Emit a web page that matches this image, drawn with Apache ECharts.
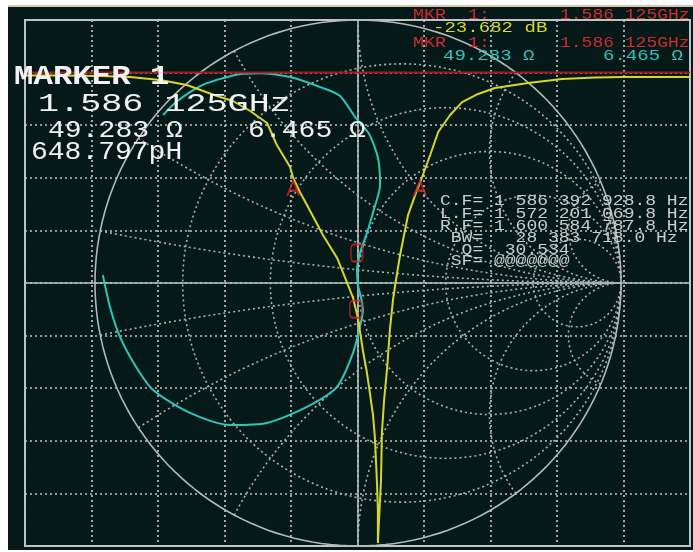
<!DOCTYPE html>
<html><head><meta charset="utf-8">
<script src="https://cdn.jsdelivr.net/npm/echarts@6/dist/echarts.min.js"></script>
<style>html,body{margin:0;padding:0;background:#fff;}#c{width:693px;height:552px;}</style>
</head><body><div id="c"></div>
<script>
// ---- Log-magnitude trace (yellow) ----
const logMagFreqMHz = [1511.5,1519.4,1528.4,1535.2,1542.0,1548.0,1554.8,1558.4,1562.3,1566.1,1568.3,1571.3,1572.0,1573.5,1575.1,1578.7,1581.9,1584.1,1585.5,1586.6,1587.7,1588.6,1589.3,1590.0,1590.4,1590.9,1591.1,1591.1,1591.3,1591.8,1592.0,1592.5,1593.2,1593.8,1594.5,1595.0,1596.1,1597.9,1599.5,1601.0,1602.9,1604.7,1607.4,1610.1,1613.7,1617.5,1625.0,1632.6,1640.1,1646.4,1661.5];
const logMagDb = [-0.28,-0.28,-0.32,-0.42,-0.70,-1.18,-2.22,-2.70,-3.65,-4.79,-6.88,-8.97,-10.02,-11.35,-12.59,-15.44,-17.62,-19.91,-21.42,-23.33,-26.37,-28.46,-30.46,-32.55,-34.55,-39.01,-41.58,-44.72,-44.72,-38.73,-34.26,-31.12,-27.99,-24.47,-21.62,-20.19,-17.34,-13.54,-11.64,-10.02,-7.83,-5.65,-4.03,-2.80,-2.03,-1.46,-0.99,-0.61,-0.47,-0.42,-0.42];
const refLevelDb = 0;
// ---- Smith chart trace (cyan), reflection coefficient ----
const smithRe = [-0.741,-0.696,-0.639,-0.582,-0.513,-0.449,-0.373,-0.259,-0.133,-0.068,-0.011,0.042,0.076,0.084,0.061,0.034,0.011,-0.004,0.000,0.011,0.019,0.008,-0.019,-0.080,-0.194,-0.346,-0.487,-0.639,-0.779,-0.848,-0.905,-0.943,-0.970];
const smithIm = [0.639,0.684,0.726,0.757,0.779,0.795,0.798,0.783,0.741,0.711,0.631,0.567,0.475,0.373,0.281,0.190,0.125,0.049,-0.008,-0.053,-0.103,-0.163,-0.266,-0.395,-0.471,-0.532,-0.540,-0.494,-0.407,-0.312,-0.205,-0.091,0.030];
// ---- Markers ----
const markerLogMag = [1586.125, -22.5];
const markerSmith = [-0.004, 0.114];
const bwMarkerFreq = [1572.0, 1600.6];
const bwMarkerDb = [-11.0, -11.0];
// ---- Smith graticule values ----
const resistanceCircles = [0.2, 0.5, 1, 2, 5];
const reactanceArcs = [0.1, 0.3, 0.6, 1, 2, 5];
// ---- Text ----
const bigLines = ['MARKER 1', '1.586 125GHz', '49.283 \u03a9', '6.465 \u03a9', '648.797pH'];
const infoLines = ['C.F= 1 586 392 928.8 Hz', 'L.F= 1 572 201 069.8 Hz', 'R.F= 1 600 584 787.8 Hz', ' BW=   28 383 718.0 Hz', '  Q=  30.534', ' SF= @@@@@@@'];

function resistancePath(r){
  const cx = r/(1+r), rad = 1/(1+r), pts = [];
  for (let i=0;i<=180;i++){ const a=i/180*2*Math.PI; pts.push([cx+rad*Math.cos(a), rad*Math.sin(a)]); }
  return pts;
}
function reactancePath(x){
  const ax=Math.abs(x), s=Math.sign(x), cy=1/ax, rad=1/ax;
  const p0=[(ax*ax-1)/(ax*ax+1), 2*ax/(ax*ax+1)];
  let a0=Math.atan2(p0[1]-cy, p0[0]-1); if(a0<0) a0+=2*Math.PI;
  const a1=1.5*Math.PI, pts=[];
  for (let i=0;i<=120;i++){ const a=a0+(a1-a0)*i/120; pts.push([1+rad*Math.cos(a), s*(cy+rad*Math.sin(a))]); }
  return pts;
}

const chart = echarts.init(document.getElementById('c'), null, {renderer:'canvas', width:693, height:552});
const gratStyle = {color:'#aab2b2', width:1.6, type:[2,3]};
const series = [];
resistanceCircles.forEach(r => series.push({type:'line', xAxisIndex:3, yAxisIndex:2, data:resistancePath(r), symbol:'none', silent:true, lineStyle:gratStyle, z:1, animation:false}));
reactanceArcs.forEach(x => [x,-x].forEach(v => series.push({type:'line', xAxisIndex:3, yAxisIndex:2, data:reactancePath(v), symbol:'none', silent:true, lineStyle:gratStyle, z:1, animation:false})));
series.push({type:'line', xAxisIndex:3, yAxisIndex:2, data:resistancePath(0), symbol:'none', silent:true, lineStyle:{color:'#b4b9b9', width:1.6}, z:1, animation:false});

series.push({type:'line', xAxisIndex:3, yAxisIndex:2, data:smithRe.map((v,i)=>[v, smithIm[i]]), symbol:'none', smooth:0.25, lineStyle:{color:'#2cc6be', width:2}, z:4, animation:false});
series.push({type:'line', xAxisIndex:0, yAxisIndex:0, data:logMagFreqMHz.map((f,i)=>[f, logMagDb[i]]), symbol:'none', lineStyle:{color:'#d6d62c', width:2}, z:5, animation:false});
series.push({type:'line', xAxisIndex:0, yAxisIndex:0, data:[[logMagFreqMHz[0], refLevelDb],[logMagFreqMHz[logMagFreqMHz.length-1], refLevelDb]], symbol:'none', silent:true, lineStyle:{color:'#a81818', width:2}, z:6, animation:false});
const boxStyle = {color:'rgba(0,0,0,0)', borderColor:'#d42424', borderWidth:1.6};
series.push({type:'scatter', xAxisIndex:0, yAxisIndex:0, data:[markerLogMag], symbol:'roundRect', symbolSize:[12,17], itemStyle:boxStyle, z:7, silent:true, animation:false});
series.push({type:'scatter', xAxisIndex:3, yAxisIndex:2, data:[markerSmith], symbol:'roundRect', symbolSize:[12,17], itemStyle:boxStyle, z:7, silent:true, animation:false});
series.push({type:'scatter', xAxisIndex:0, yAxisIndex:0, data:bwMarkerFreq.map((f,i)=>[f, bwMarkerDb[i]]), symbol:'path://M0 20 L10 0 L20 20 M3 13 L17 13', symbolSize:[12,15], itemStyle:{color:'rgba(0,0,0,0)', borderColor:'#d42424', borderWidth:2}, z:7, silent:true, animation:false});

const hidden = {axisLine:{show:false}, axisTick:{show:false}, axisLabel:{show:false}};
const dotted = {show:true, lineStyle:{color:'#bcc4c4', width:1.7, type:[2,3]}};
const solid = {show:true, lineStyle:{color:'#bcc0c0', width:1.6, type:'solid'}};

function txt(x,y,s,size,color,sx,weight){
  return {type:'text', x:x, y:y, scaleX:sx, z:100, style:{text:s, font:(weight||'normal')+' '+size+'px "Liberation Mono"', fill:color, align:'left', verticalAlign:'middle', textAlign:'left', textVerticalAlign:'middle'}};
}
const W='#f2f2f2', RED='#d42a2a', YEL='#d8d830', CY='#2cc8c0', INFO='#c9cece';
const graphics = [
  {type:'rect', shape:{x:0,y:0,width:693,height:5}, style:{fill:'#ffffff'}, z:100},
  {type:'rect', shape:{x:0,y:5,width:693,height:2}, style:{fill:'#d8c6a6'}, z:100},
  {type:'rect', shape:{x:0,y:0,width:8,height:552}, style:{fill:'#ffffff'}, z:100},
  {type:'rect', shape:{x:0,y:550,width:693,height:2}, style:{fill:'#ffffff'}, z:100},
  txt(14, 77, bigLines[0], 27, W, 1.2, 'bold'),
  txt(38, 104, bigLines[1], 26, W, 1.35),
  txt(48, 131, bigLines[2], 24, W, 1.17),
  txt(248, 131, bigLines[3], 24, W, 1.17),
  txt(31, 152, bigLines[4], 25, W, 1.12),
  txt(413, 15, 'MKR  1:', 15, RED, 1.22),
  txt(560, 15, '1.586 125GHz', 15, RED, 1.2),
  txt(433, 28, '-23.682 dB', 15, YEL, 1.27),
  txt(413, 43, 'MKR  1:', 15, RED, 1.22),
  txt(560, 43, '1.586 125GHz', 15, RED, 1.2),
  txt(443, 56, '49.283 \u03a9', 15, CY, 1.27),
  txt(603, 56, '6.465 \u03a9', 15, CY, 1.27)
];
const infoY = [201, 214, 226, 238, 250, 261];
infoLines.forEach((s,i)=>graphics.push(txt(440, infoY[i], s, 15, INFO, 1.2)));

chart.setOption({
  animation:false,
  backgroundColor:'#061919',
  grid:[{left:25, top:20, width:665, height:526, show:true, borderColor:'#c9cdcd', borderWidth:2, backgroundColor:'transparent'},
        {left:95, top:20, width:526, height:526}],
  xAxis:[
    {gridIndex:0, type:'value', min:1511.5, max:1661.5, show:false},
    Object.assign({gridIndex:0, type:'value', min:0, max:10, interval:1, position:'top', splitLine:dotted, z:0}, hidden),
    Object.assign({gridIndex:0, type:'value', min:0, max:2, interval:1, position:'top', splitLine:solid, z:1}, hidden),
    {gridIndex:1, type:'value', min:-1, max:1, show:false}
  ],
  yAxis:[
    Object.assign({gridIndex:0, type:'value', min:-45, max:5, interval:5, splitLine:dotted, z:0}, hidden),
    Object.assign({gridIndex:0, type:'value', min:0, max:2, interval:1, position:'right', splitLine:solid, z:1}, hidden),
    {gridIndex:1, type:'value', min:-1, max:1, show:false}
  ],
  graphic:graphics,
  series:series
});
</script></body></html>
